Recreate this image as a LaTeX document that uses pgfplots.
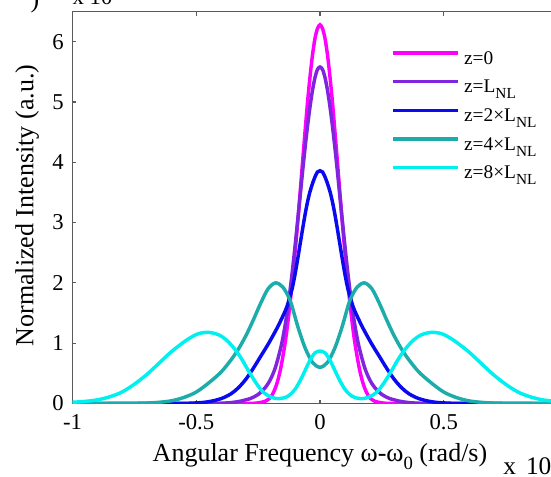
\documentclass[border=0pt]{standalone}
\usepackage{pgfplots}
\pgfplotsset{compat=1.18}
\usepackage{fontspec}
\setmainfont{Liberation Serif}
\definecolor{cZ0}{RGB}{255,0,255}
\definecolor{cZ1}{RGB}{128,36,222}
\definecolor{cZ2}{RGB}{10,10,240}
\definecolor{cZ4}{RGB}{28,172,170}
\definecolor{cZ8}{RGB}{0,240,240}
\definecolor{axgray}{RGB}{90,90,90}
\newcommand{\sub}[1]{\raisebox{-4.5pt}{\fontsize{11.5}{13}\selectfont #1}}
\begin{document}
\begin{tikzpicture}
\begin{axis}[
  scale only axis,
  width=371.25pt, height=294pt,
  xmin=-1, xmax=1, ymin=0, ymax=6.5,
  clip mode=individual,
  xtick={-1,-0.5,0,0.5,1},
  xticklabels={-1,-0.5,0,0.5,1},
  ytick={0,1,2,3,4,5,6},
  yticklabels={0,1,2,3,4,5,6},
  tick align=inside,
  major tick length=3pt,
  axis line style={axgray, line width=1.1pt},
  every tick/.style={axgray, line width=0.8pt},
  tick label style={font=\fontsize{17}{20}\selectfont},
  xticklabel style={yshift=-5pt},
  yticklabel style={xshift=-3pt},
  xlabel={Angular Frequency ω-ω\raisebox{-6pt}{\fontsize{14}{14}\selectfont 0} (rad/s)},
  ylabel={Normalized Intensity (a.u.)},
  label style={font=\fontsize{19.5}{23}\selectfont},
  xlabel style={at={(axis description cs:0.5,-0.149)}, anchor=base},
  ylabel style={at={(axis description cs:-0.0916,0.505)}, anchor=center},
  legend style={draw=none, fill=none, inner sep=0pt, outer sep=0pt,
    at={(axis description cs:0.6435,0.8987)}, anchor=north west,
    font=\fontsize{14.5}{16}\selectfont, row sep=10.15pt, column sep=3.5pt,
    nodes={inner sep=0pt, outer sep=0pt}},
  legend cell align=left,
  legend image code/.code={\draw[#1] (0pt,4.5pt) -- (48.75pt,4.5pt);},
  every axis plot/.append style={line width=2.6pt, smooth},
]
\addplot[cZ0] coordinates {
(-1,0) (-0.5,0) (-0.3,0) (-0.25,0.01) (-0.22,0.04) (-0.20,0.10) (-0.19,0.17) (-0.18,0.26) (-0.17,0.39) (-0.16,0.56) (-0.15,0.78) (-0.14,1.03) (-0.13,1.34) (-0.12,1.70) (-0.11,2.10) (-0.10,2.54) (-0.09,3.01) (-0.08,3.51) (-0.07,4.03) (-0.06,4.53) (-0.05,5.01) (-0.04,5.43) (-0.03,5.79) (-0.02,6.06) (-0.01,6.22) (0,6.28)
(0.01,6.22) (0.02,6.06) (0.03,5.79) (0.04,5.43) (0.05,5.01) (0.06,4.53) (0.07,4.03) (0.08,3.51) (0.09,3.01) (0.10,2.54) (0.11,2.10) (0.12,1.70) (0.13,1.34) (0.14,1.03) (0.15,0.78) (0.16,0.56) (0.17,0.39) (0.18,0.26) (0.19,0.17) (0.20,0.10) (0.22,0.04) (0.25,0.01) (0.3,0) (0.5,0) (1,0)
};
\addlegendentry{z=0}
\addplot[cZ1] coordinates {
(-1,0) (-0.45,0) (-0.40,0.005) (-0.36,0.015) (-0.32,0.04) (-0.28,0.085) (-0.25,0.15) (-0.22,0.27) (-0.20,0.40) (-0.18,0.60) (-0.16,0.90) (-0.15,1.09) (-0.14,1.32) (-0.13,1.59) (-0.12,1.91) (-0.11,2.26) (-0.10,2.64) (-0.09,3.04) (-0.08,3.45) (-0.07,3.86) (-0.06,4.25) (-0.05,4.61) (-0.04,4.93) (-0.03,5.20) (-0.02,5.41) (-0.01,5.54) (0,5.58)
(0.01,5.54) (0.02,5.41) (0.03,5.20) (0.04,4.93) (0.05,4.61) (0.06,4.25) (0.07,3.86) (0.08,3.45) (0.09,3.04) (0.10,2.64) (0.11,2.26) (0.12,1.91) (0.13,1.59) (0.14,1.32) (0.15,1.09) (0.16,0.90) (0.18,0.60) (0.20,0.40) (0.22,0.27) (0.25,0.15) (0.28,0.085) (0.32,0.04) (0.36,0.015) (0.40,0.005) (0.45,0) (1,0)
};
\addlegendentry{z=L\sub{NL}}
\addplot[cZ2] coordinates {
(-1,0) (-0.6,0) (-0.5,0.01) (-0.45,0.03) (-0.40,0.08) (-0.36,0.16) (-0.33,0.26) (-0.30,0.40) (-0.27,0.58) (-0.24,0.78) (-0.21,0.98) (-0.18,1.20) (-0.165,1.32) (-0.15,1.45) (-0.14,1.54) (-0.13,1.65) (-0.12,1.79) (-0.11,1.95) (-0.10,2.16) (-0.09,2.40) (-0.08,2.65) (-0.07,2.90) (-0.06,3.14) (-0.05,3.35) (-0.04,3.52) (-0.03,3.65) (-0.02,3.76) (-0.01,3.84) (0,3.86)
(0.01,3.84) (0.02,3.76) (0.03,3.65) (0.04,3.52) (0.05,3.35) (0.06,3.14) (0.07,2.90) (0.08,2.65) (0.09,2.40) (0.10,2.16) (0.11,1.95) (0.12,1.79) (0.13,1.65) (0.14,1.54) (0.15,1.45) (0.165,1.32) (0.18,1.20) (0.21,0.98) (0.24,0.78) (0.27,0.58) (0.30,0.40) (0.33,0.26) (0.36,0.16) (0.40,0.08) (0.45,0.03) (0.5,0.01) (0.6,0) (1,0)
};
\addlegendentry{z=2×L\sub{NL}}
\addplot[cZ4] coordinates {
(-1,0) (-0.8,0.001) (-0.7,0.008) (-0.65,0.02) (-0.60,0.045) (-0.55,0.10) (-0.50,0.19) (-0.45,0.34) (-0.40,0.52) (-0.36,0.72) (-0.33,0.90) (-0.30,1.12) (-0.27,1.38) (-0.24,1.66) (-0.21,1.90) (-0.18,2.00) (-0.15,1.93) (-0.12,1.70) (-0.09,1.28) (-0.06,0.92) (-0.03,0.68) (0,0.60)
(0.03,0.68) (0.06,0.92) (0.09,1.28) (0.12,1.70) (0.15,1.93) (0.18,2.00) (0.21,1.90) (0.24,1.66) (0.27,1.38) (0.30,1.12) (0.33,0.90) (0.36,0.72) (0.40,0.52) (0.45,0.34) (0.50,0.19) (0.55,0.10) (0.60,0.045) (0.65,0.02) (0.7,0.008) (0.8,0.001) (1,0)
};
\addlegendentry{z=4×L\sub{NL}}
\addplot[cZ8] coordinates {
(-1,0.02) (-0.95,0.035) (-0.90,0.06) (-0.85,0.11) (-0.80,0.19) (-0.75,0.32) (-0.70,0.48) (-0.65,0.67) (-0.60,0.86) (-0.55,1.02) (-0.52,1.10) (-0.49,1.16) (-0.45,1.18) (-0.41,1.14) (-0.38,1.06) (-0.35,0.93) (-0.32,0.76) (-0.29,0.55) (-0.26,0.35) (-0.23,0.19) (-0.20,0.11) (-0.17,0.08) (-0.14,0.10) (-0.12,0.15) (-0.10,0.24) (-0.08,0.38) (-0.06,0.55) (-0.04,0.72) (-0.02,0.84) (0,0.87)
(0.02,0.84) (0.04,0.72) (0.06,0.55) (0.08,0.38) (0.10,0.24) (0.12,0.15) (0.14,0.10) (0.17,0.08) (0.20,0.11) (0.23,0.19) (0.26,0.35) (0.29,0.55) (0.32,0.76) (0.35,0.93) (0.38,1.06) (0.41,1.14) (0.45,1.18) (0.49,1.16) (0.52,1.10) (0.55,1.02) (0.60,0.86) (0.65,0.67) (0.70,0.48) (0.75,0.32) (0.80,0.19) (0.85,0.11) (0.90,0.06) (0.95,0.035) (1,0.02)
};
\addlegendentry{z=8×L\sub{NL}}
\node[anchor=base west, font=\fontsize{19}{22}\selectfont, inner sep=0pt] at (axis description cs:0.8697,-0.1811) {x\hspace{0.4em}10\textsuperscript{15}};
\node[anchor=base west, font=\fontsize{17}{20}\selectfont] at (axis description cs:-0.0091,1.0167) {x 10\textsuperscript{-3}};
\node[anchor=base east, font=\fontsize{19.5}{23}\selectfont] at (axis description cs:-0.0576,1.0107) {)};
\end{axis}
\pgfresetboundingbox
\path[use as bounding box] (-54.375pt,-54.375pt) rectangle (358.875pt,302.625pt);
\end{tikzpicture}
\end{document}
